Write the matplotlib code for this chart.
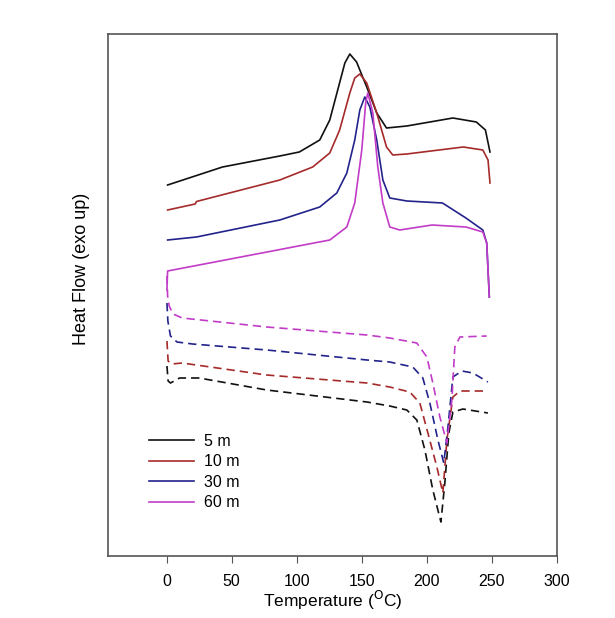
import matplotlib
matplotlib.use("Agg")
import matplotlib.pyplot as plt

plt.rcParams['font.family'] = ['Liberation Sans', 'DejaVu Sans']

# Heating (solid) curves: temperature (C) and heat flow (a.u., exo up)
h5_x = [0.8, 43, 87, 102, 117.7, 125.4, 131.5, 137, 140.8, 146, 153.8, 161.5, 169, 184.6, 220, 238, 245, 248.5]
h5_y = [3.71, 3.89, 4.00, 4.04, 4.16, 4.36, 4.66, 4.93, 5.02, 4.94, 4.69, 4.43, 4.28, 4.30, 4.38, 4.34, 4.26, 4.04]

h10_x = [0.8, 22, 23, 87, 112.3, 125.4, 133, 140.8, 144.6, 148.5, 153.8, 161.5, 169, 173.8, 184.6, 228, 243, 247, 248.5]
h10_y = [3.46, 3.52, 3.545, 3.76, 3.89, 4.03, 4.26, 4.63, 4.78, 4.82, 4.73, 4.43, 4.09, 4.01, 4.02, 4.09, 4.06, 3.96, 3.73]

h30_x = [0.8, 23, 87, 117.7, 130.8, 138.5, 144.6, 148.5, 152.3, 156.2, 161.5, 166.2, 171.5, 184.6, 212, 230, 243, 246, 248]
h30_y = [3.16, 3.19, 3.36, 3.49, 3.63, 3.83, 4.16, 4.46, 4.59, 4.49, 4.16, 3.76, 3.58, 3.55, 3.53, 3.38, 3.26, 3.13, 2.59]

h60_x = [0.3, 0.8, 125.4, 138.5, 144.6, 150, 153, 154.6, 158.5, 162.3, 166.2, 171.5, 179.2, 204, 230, 243, 246, 248]
h60_y = [2.66, 2.85, 3.16, 3.29, 3.53, 4.06, 4.53, 4.63, 4.43, 3.89, 3.53, 3.29, 3.26, 3.31, 3.29, 3.24, 3.13, 2.59]

# Cooling (dashed) curves
c5_x = [0.3, 1.2, 3, 10, 25, 77, 154, 171.5, 184.6, 192.3, 198.5, 204.6, 210.8, 213.8, 216.9, 220, 227.7, 246.9]
c5_y = [1.90, 1.75, 1.73, 1.78, 1.78, 1.66, 1.54, 1.50, 1.46, 1.36, 1.06, 0.66, 0.34, 0.73, 1.23, 1.44, 1.47, 1.43]

c10_x = [0.3, 1.2, 4, 12, 77, 154, 171.5, 186.9, 194.6, 200.8, 207.7, 212.3, 215.4, 220, 225.4, 246]
c10_y = [2.15, 1.95, 1.92, 1.93, 1.81, 1.73, 1.69, 1.64, 1.53, 1.23, 0.89, 0.63, 1.16, 1.59, 1.65, 1.65]

c30_x = [0.3, 1, 3, 8, 20, 77, 154, 171.5, 189.2, 196.9, 202.3, 208.5, 213, 216.2, 220, 226.9, 235.4, 246.9]
c30_y = [2.53, 2.35, 2.20, 2.14, 2.12, 2.06, 1.96, 1.94, 1.89, 1.78, 1.53, 1.16, 0.93, 1.29, 1.79, 1.85, 1.83, 1.74]

c60_x = [0.3, 0.8, 2, 5, 12, 77, 154, 171.5, 192.3, 200, 204.6, 210, 215.4, 219.2, 221.5, 225.4, 246]
c60_y = [2.80, 2.60, 2.50, 2.42, 2.38, 2.29, 2.21, 2.18, 2.13, 1.99, 1.73, 1.39, 1.13, 1.56, 2.09, 2.19, 2.20]

labels = ["5 m", "10 m", "30 m", "60 m"]
colors = ["#111111", "#a52a2a", "#23238c", "#c23cc8"]

fig = plt.figure(figsize=(6.15, 6.18), dpi=100)
ax = fig.add_axes([0.1756, 0.1003, 0.7301, 0.8447])

heat = [(h5_x, h5_y), (h10_x, h10_y), (h30_x, h30_y), (h60_x, h60_y)]
cool = [(c5_x, c5_y), (c10_x, c10_y), (c30_x, c30_y), (c60_x, c60_y)]

for (x, y), lab, c in zip(heat, labels, colors):
    ax.plot(x, y, color=c, lw=1.2, label=lab)
for (x, y), c in zip(cool, colors):
    ax.plot(x, y, color=c, lw=1.2, ls=(0, (5, 3)))

ax.set_xlim(-45, 300)
ax.set_ylim(0, 5.22)
ax.set_xticks([0, 50, 100, 150, 200, 250, 300])
ax.set_yticks([])
ax.tick_params(axis='x', direction='out', length=5, color='#555555', labelsize=11.5, pad=8)
for s in ax.spines.values():
    s.set_color('#555555')
    s.set_linewidth(1.2)

ax.set_xlabel("Temperature ($^{\\mathrm{O}}$C)", fontsize=12.5, labelpad=0)
ax.set_ylabel("Heat Flow (exo up)", fontsize=13)
ax.yaxis.set_label_coords(-0.040, 0.55)

leg = ax.legend(loc='lower left', bbox_to_anchor=(0.06, 0.06), frameon=False,
                fontsize=11.5, handlelength=2.8, labelspacing=0.35, handletextpad=0.6)

fig.savefig("out.png", dpi=100)
